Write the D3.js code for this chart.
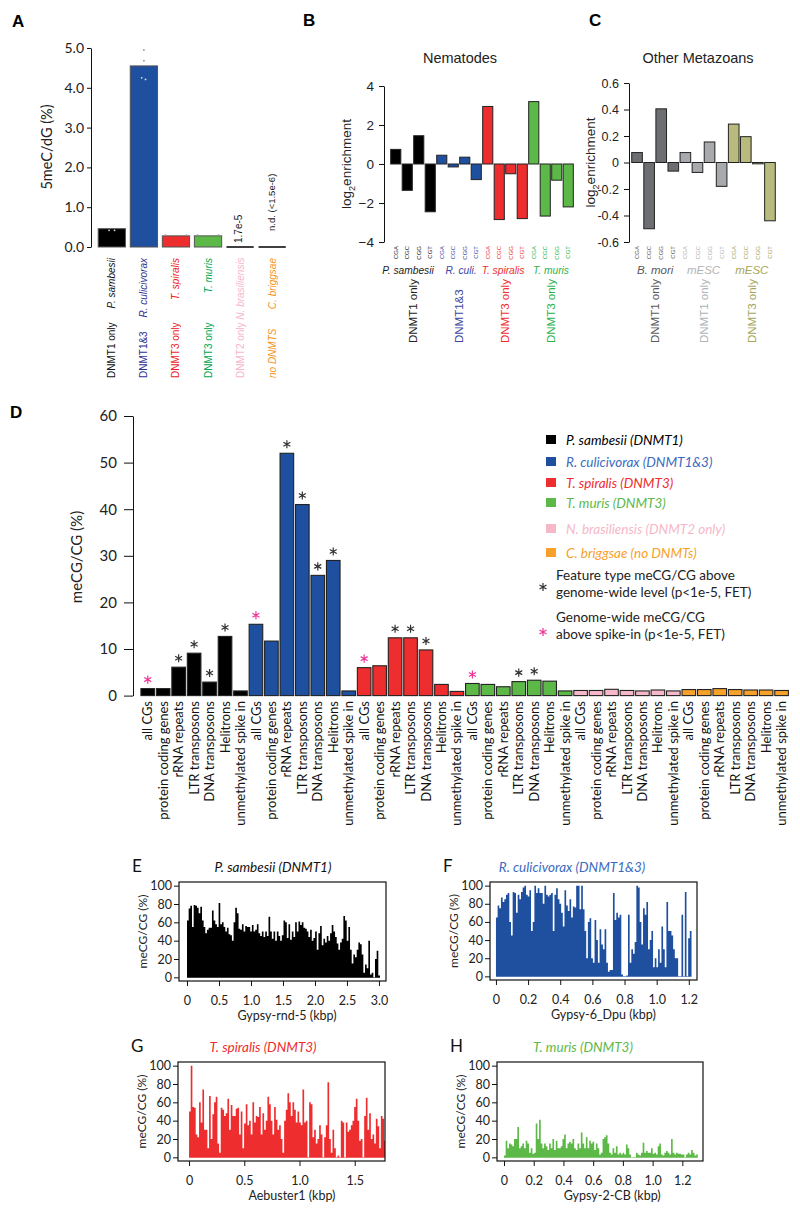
<!DOCTYPE html>
<html><head><meta charset="utf-8">
<script src="https://cdn.jsdelivr.net/npm/d3@7"></script>
<style>
body{margin:0;background:#fff;}
svg{display:block;}
</style></head><body>
<svg id="c" width="800" height="1215"></svg>
<script>
// ================= DATA =================
// Panel A
const A_species = ["P. sambesii","R. culicivorax","T. spiralis","T. muris","N. brasiliensis","C. briggsae"];
const A_dnmt = ["DNMT1 only","DNMT1&3","DNMT3 only","DNMT3 only","DNMT2 only","no DNMTS"];
const A_values = [0.46, 4.55, 0.28, 0.28, 0.000017, 0];
const A_ticks = [0,1,2,3,4,5];
const A_repSpecies = [1,1,1,1,0,0,2,2,3,3];
const A_repValues = [4.95,4.68,4.25,4.21,0.42,0.42,0.30,0.30,0.30,0.30];
const A_repJitter = [0.5,0.5,0.42,0.56,0.4,0.6,0.12,0.88,0.12,0.88];
const A_notes = ["1.7e-5","n.d. (<1.5e-6)"];

// Panel B
const codons = ["CGA","CGC","CGG","CGT"];
const B_species = ["P. sambesii","R. culi.","T. spiralis","T. muris"];
const B_dnmt = ["DNMT1 only","DNMT1&3","DNMT3 only","DNMT3 only"];
const B_values = [[0.75,-1.35,1.45,-2.45],[0.45,-0.15,0.35,-0.8],[2.95,-2.85,-0.5,-2.8],[3.2,-2.67,-0.83,-2.2]];
const B_ticks = [-4,-2,0,2,4];

// Panel C
const C_species = ["B. mori","mESC","mESC"];
const C_dnmt = ["DNMT1 only","DNMT1 only","DNMT3 only"];
const C_values = [[0.075,-0.5,0.405,-0.065],[0.075,-0.075,0.155,-0.18],[0.29,0.195,-0.01,-0.44]];
const C_ticks = [-0.6,-0.4,-0.2,0,0.2,0.4,0.6];

// Panel D
const D_features = ["all CGs","protein coding genes","rRNA repeats","LTR transposons","DNA transposons","Helitrons","unmethylated spike in"];
const D_species = ["P. sambesii (DNMT1)","R. culicivorax (DNMT1&3)","T. spiralis (DNMT3)","T. muris (DNMT3)","N. brasiliensis (DNMT2 only)","C. briggsae (no DNMTs)"];
const D_values = [
  [1.5,1.5,6.1,9.1,2.9,12.7,1.0],
  [15.3,11.7,52.0,41.0,25.8,29.0,1.0],
  [6.0,6.4,12.4,12.4,9.8,2.4,0.9],
  [2.6,2.4,1.9,3.0,3.3,3.1,1.0],
  [1.1,1.1,1.35,1.1,1.0,1.2,1.0],
  [1.3,1.3,1.5,1.3,1.2,1.2,1.1]];
const D_featureStar = [
  [0,0,1,1,1,1,0],
  [0,0,1,1,1,1,0],
  [0,0,1,1,1,0,0],
  [0,0,0,1,1,0,0],
  [0,0,0,0,0,0,0],
  [0,0,0,0,0,0,0]];
const D_genomeStar = [1,1,1,1,0,0];
const D_ticks = [0,10,20,30,40,50,60];
const D_starLegend = [["Feature type meCG/CG above","genome-wide level (p<1e-5, FET)"],["Genome-wide meCG/CG","above spike-in (p<1e-5, FET)"]];

// Panels E-H (meCG/CG % in consecutive bins along element)
const E_values = [62,75,78,55,79,78,76,70,77,62,55,48,52,54,54,73,62,58,55,81,58,60,55,50,54,47,46,40,60,76,70,53,52,58,50,56,55,55,50,57,50,52,58,48,45,50,44,50,45,66,50,42,50,40,50,45,40,46,62,60,43,58,41,50,44,60,50,61,57,60,54,53,50,44,52,40,43,50,30,48,56,35,42,38,45,40,48,57,50,44,37,30,38,42,67,62,40,55,30,15,25,22,30,38,36,25,5,14,10,40,3,5,0,20,29,2];
const F_values = [65,78,75,87,82,85,90,92,60,45,93,92,70,90,85,93,98,100,90,88,95,50,60,100,92,97,92,92,80,100,90,88,90,92,50,90,97,85,80,70,55,95,78,72,85,65,77,76,100,100,74,100,74,50,20,60,64,20,15,62,40,15,52,35,30,52,15,5,7,7,92,62,70,65,68,2,0,0,1,68,15,30,25,38,100,98,60,35,75,68,82,30,40,50,10,20,10,30,15,55,30,10,82,50,50,45,30,20,20,0,0,68,0,93,0,42,50];
const G_values = [50,100,55,54,25,22,60,38,74,30,30,10,67,20,47,60,66,15,5,54,52,45,48,64,30,57,45,45,53,54,25,50,10,37,58,35,40,25,60,38,45,44,55,25,48,30,40,66,58,40,25,55,41,30,35,20,5,40,52,70,60,45,60,52,38,50,38,35,74,38,40,0,60,58,22,30,15,20,35,25,0,22,35,82,20,5,30,10,0,2,0,40,38,0,38,28,30,35,40,55,64,40,18,20,0,45,65,30,48,20,25,15,42,34,10,45,42,18];
const H_values = [2,18,10,15,14,12,20,20,33,10,12,15,10,18,15,5,10,4,5,37,20,41,15,10,15,12,8,15,10,20,8,18,10,10,12,20,25,10,15,17,15,20,10,8,15,10,27,15,10,22,10,18,15,17,8,15,10,3,5,20,22,24,15,5,3,10,5,12,3,5,3,5,3,14,10,3,0,0,0,5,3,2,5,16,5,7,5,5,10,4,5,3,12,15,3,2,5,7,5,3,20,5,3,5,4,4,3,3,0,3,5,3,8,5,2,3];
const E_bin = 0.026, F_bin = 0.0104, G_bin = 0.0151, H_bin = 0.01124;
const E_xticks = [0,0.5,1,1.5,2,2.5,3];
const F_xticks = [0,0.2,0.4,0.6,0.8,1.0,1.2];
const G_xticks = [0,0.5,1,1.5];
const H_xticks = [0,0.2,0.4,0.6,0.8,1.0,1.2];
const trace_yticks = [0,20,40,60,80,100];

// ================= STYLE =================
const fill6 = ["#000000","#1f4f9f","#ee2d2f","#5cb947","#f6b8c8","#f7a12a"];
const A_textCol = ["#111111","#2e3192","#ed1c24","#00a651","#f7b6c8","#f7941d"];
const B_fill = ["#000000","#1f4f9f","#ee2d2f","#5cb947"];
const B_textCol = ["#222222","#3b46a0","#ee2d2f","#2bb34b"];
const C_fill = ["#6d6e71","#a7a9ac","#b8bb7d"];
const C_textCol = ["#58595b","#b1b3b6","#a4a65a"];
const D_legCol = ["#000000","#3b6bc1","#ee2d2f","#5cb947","#f6b8c8","#f7a12a"];
const PINK = "#f0359a";
const MYR = "Lato, 'Open Sans', sans-serif";
const HEL = "'Liberation Sans', Arial, sans-serif";

const svg = d3.select("#c");

function styleAxis(g, font, size, col){
  g.attr("font-family", font).attr("font-size", size);
  g.selectAll(".domain").attr("stroke","#111").attr("stroke-width",1);
  g.selectAll(".tick line").attr("stroke","#111");
  g.selectAll(".tick text").attr("fill", col || "#222");
}
function rotText(g, x, y, txt, anchor, opts){
  const t = g.append("text").attr("transform",`translate(${x},${y}) rotate(-90)`)
    .attr("text-anchor",anchor).attr("dy","0.35em")
    .attr("font-family",opts.font).attr("font-size",opts.size)
    .attr("fill",opts.fill).attr("font-style",opts.italic?"italic":"normal");
  if (txt !== null) t.text(txt);
  return t;
}

// ================= PANEL A =================
(function(){
  const g = svg.append("g");
  g.append("text").attr("x",12).attr("y",27).text("A").attr("font-family",HEL).attr("font-weight","bold").attr("font-size",17);
  const y = d3.scaleLinear().domain([0,5]).range([247,48]);
  const x = d3.scaleBand().domain(d3.range(A_species.length)).range([95,289]).paddingInner(0.15).paddingOuter(0.1);
  const ax = g.append("g").attr("transform","translate(91,0)")
    .call(d3.axisLeft(y).tickValues(A_ticks).tickFormat(d3.format(".1f")).tickSize(4).tickPadding(3).tickSizeOuter(0));
  styleAxis(ax, MYR, 14);
  g.append("text").attr("transform",`translate(52,147) rotate(-90)`).attr("text-anchor","middle")
    .attr("font-family",MYR).attr("font-size",14.5).attr("fill","#222").text("5meC/dG (%)");
  A_values.forEach((v,i)=>{
    const h = y(0)-y(v);
    if (h > 1.5){
      g.append("rect").attr("x",x(i)).attr("y",y(v)).attr("width",x.bandwidth()).attr("height",h)
        .attr("fill",fill6[i]).attr("stroke","#555").attr("stroke-width",1);
    } else {
      g.append("line").attr("x1",x(i)).attr("x2",x(i)+x.bandwidth()).attr("y1",y(0)).attr("y2",y(0))
        .attr("stroke","#111").attr("stroke-width",1.6);
    }
  });
  A_repValues.forEach((v,k)=>{
    const s = A_repSpecies[k];
    const inside = v <= A_values[s];
    g.append("circle").attr("cx",x(s)+x.bandwidth()*A_repJitter[k]).attr("cy",y(v)).attr("r",0.9)
      .attr("fill", inside ? "#dddddd" : "#999999");
  });
  rotText(g, x(4)+x.bandwidth()*0.45, 243, A_notes[0], "start", {font:HEL,size:10,fill:"#222"});
  rotText(g, x(5)+x.bandwidth()*0.5, 231, A_notes[1], "start", {font:HEL,size:9.5,fill:"#222"});
  A_species.forEach((s,i)=>{
    const cx = x(i)+x.bandwidth()/2;
    if (i === 4){
      const t = rotText(g, cx, 378, null, "start", {font:HEL,size:10,fill:A_textCol[i]});
      t.append("tspan").text(A_dnmt[i]+" ");
      t.append("tspan").attr("font-style","italic").text(s);
    } else {
      rotText(g, cx, 258, s, "end", {font:HEL,size:10,fill:A_textCol[i],italic:true});
      rotText(g, cx, 378, A_dnmt[i], "start", {font:HEL,size:10,fill:A_textCol[i],italic:i===5});
    }
  });
})();

// ================= PANELS B & C =================
function codonPanel(cfg){
  const g = svg.append("g");
  g.append("text").attr("x",cfg.letterX).attr("y",26).text(cfg.letter).attr("font-family",HEL).attr("font-weight","bold").attr("font-size",17);
  g.append("text").attr("x",cfg.titleX).attr("y",63).attr("text-anchor","middle").attr("font-family",HEL)
    .attr("font-size",14.5).attr("fill","#222").text(cfg.title);
  const y = d3.scaleLinear().domain(cfg.ydom).range(cfg.yrange);
  const flat = [];
  cfg.values.forEach((arr,si)=>arr.forEach((v,ci)=>flat.push({si,ci,v})));
  const x = d3.scaleBand().domain(d3.range(flat.length)).range(cfg.xrange).paddingInner(0.12).paddingOuter(0.06);
  const ax = g.append("g").attr("transform",`translate(${cfg.axisX},0)`)
    .call(d3.axisLeft(y).tickValues(cfg.ticks).tickFormat(cfg.fmt).tickSize(5).tickPadding(5).tickSizeOuter(0));
  styleAxis(ax, HEL, cfg.tickSize);
  const yl = g.append("text").attr("transform",`translate(${cfg.ylabX},${(cfg.yrange[0]+cfg.yrange[1])/2}) rotate(-90)`)
    .attr("text-anchor","middle").attr("font-family",HEL).attr("font-size",13.5).attr("fill","#222");
  yl.append("tspan").text("log");
  yl.append("tspan").attr("dy",4).attr("font-size",9).text("2");
  yl.append("tspan").attr("dy",-4).text("enrichment");
  flat.forEach((d,i)=>{
    g.append("rect").attr("x",x(i)).attr("width",x.bandwidth())
      .attr("y",y(Math.max(d.v,0))).attr("height",Math.max(Math.abs(y(d.v)-y(0)),1))
      .attr("fill",cfg.fill[d.si]).attr("stroke","#222").attr("stroke-width",1);
    rotText(g, x(i)+x.bandwidth()/2, 246, codons[d.ci], "end", {font:HEL,size:6,fill:cfg.textCol[d.si]});
  });
  cfg.species.forEach((s,si)=>{
    const cx = (x(si*4) + x(si*4+3) + x.bandwidth())/2;
    g.append("text").attr("x",cx + (cfg.spShift ? cfg.spShift[si] : 0)).attr("y",274).attr("text-anchor","middle").attr("font-family",HEL)
      .attr("font-size",cfg.spSize).attr("font-style","italic").attr("fill",cfg.textCol[si]).text(s);
    rotText(g, cx, 343, cfg.dnmt[si], "start", {font:HEL,size:11.5,fill:cfg.textCol[si]});
  });
}
codonPanel({letter:"B",letterX:303,title:"Nematodes",titleX:460,ydom:[-4,4],yrange:[242,86],xrange:[390,574],
  axisX:384,ticks:B_ticks,fmt:d3.format("d"),tickSize:13.5,ylabX:351,values:B_values,fill:B_fill,textCol:B_textCol,
  species:B_species,dnmt:B_dnmt,spSize:10.2,spShift:[-5,2,-2,0]});
codonPanel({letter:"C",letterX:589,title:"Other Metazoans",titleX:698,ydom:[-0.6,0.6],yrange:[242,83],xrange:[631,776],
  axisX:629,ticks:C_ticks,fmt:d=>Math.abs(d)<1e-9?"0":d3.format(".1f")(d).replace("\u2212","-"),tickSize:12.5,ylabX:595,
  values:C_values,fill:C_fill,textCol:C_textCol,species:C_species,dnmt:C_dnmt,spSize:11.5});

// ================= PANEL D =================
(function(){
  const g = svg.append("g");
  g.append("text").attr("x",10).attr("y",418).text("D").attr("font-family",HEL).attr("font-weight","bold").attr("font-size",17);
  const y = d3.scaleLinear().domain([0,60]).range([695.6,416]);
  const flat = [];
  D_values.forEach((arr,si)=>arr.forEach((v,fi)=>flat.push({si,fi,v})));
  const x = d3.scaleBand().domain(d3.range(flat.length)).range([140,789.3]).paddingInner(0.12).paddingOuter(0.06);
  const ax = g.append("g").attr("transform","translate(133,0)")
    .call(d3.axisLeft(y).tickValues(D_ticks).tickSize(9).tickPadding(7).tickSizeOuter(0));
  styleAxis(ax, MYR, 15);
  g.append("text").attr("transform",`translate(82,557) rotate(-90)`).attr("text-anchor","middle")
    .attr("font-family",MYR).attr("font-size",15).attr("fill","#222").text("meCG/CG (%)");
  const star = d3.symbol().type(d3.symbolAsterisk).size(45);
  flat.forEach((d,i)=>{
    const cx = x(i)+x.bandwidth()/2;
    g.append("rect").attr("x",x(i)).attr("y",y(d.v)).attr("width",x.bandwidth()).attr("height",y(0)-y(d.v))
      .attr("fill",fill6[d.si]).attr("stroke","#222").attr("stroke-width",1.1);
    rotText(g, cx, 701, D_features[d.fi], "end", {font:MYR,size:13,fill:"#111"});
    const featStar = D_featureStar[d.si][d.fi] === 1;
    const genStar = d.fi === 0 && D_genomeStar[d.si] === 1;
    if (featStar || genStar){
      g.append("path").attr("d",star()).attr("transform",`translate(${cx},${y(d.v)-9})`)
        .attr("fill","none").attr("stroke",genStar?PINK:"#333").attr("stroke-width",1.2);
    }
  });
  const legY = [440,462,483,503,529,553];
  D_species.forEach((s,i)=>{
    g.append("rect").attr("x",546).attr("y",legY[i]-5).attr("width",10).attr("height",9).attr("fill",fill6[i]);
    g.append("text").attr("x",566).attr("y",legY[i]+5).attr("font-family",MYR).attr("font-size",13.5)
      .attr("font-style","italic").attr("fill",D_legCol[i]).text(s);
  });
  const starY = [587,632], textY = [[580,597],[622,639]];
  D_starLegend.forEach((lines,k)=>{
    g.append("path").attr("d",star()).attr("transform",`translate(543,${starY[k]})`)
      .attr("fill","none").attr("stroke",k===0?"#333":PINK).attr("stroke-width",1.2);
    lines.forEach((ln,j)=>{
      g.append("text").attr("x",556).attr("y",textY[k][j]).attr("font-family",MYR).attr("font-size",13.5)
        .attr("fill","#222").text(ln);
    });
  });
})();

// ================= PANELS E-H =================
function tracePanel(cfg){
  const g = svg.append("g");
  const b = cfg.box;
  const x = d3.scaleLinear().domain(cfg.xdom).range([b.l,b.r]);
  const y = d3.scaleLinear().domain([-4,104]).range([b.b,b.t]);
  const id = "clip"+cfg.letter;
  g.append("clipPath").attr("id",id).append("rect").attr("x",b.l).attr("y",b.t).attr("width",b.r-b.l).attr("height",b.b-b.t);
  const pts = cfg.values.map((v,i)=>({k:i*cfg.bin, v}));
  pts.push({k:cfg.values.length*cfg.bin, v:cfg.values[cfg.values.length-1]});
  const area = d3.area().curve(d3.curveStepAfter).x(d=>x(d.k)).y0(y(0)+0.5).y1(d=>y(d.v));
  g.append("path").attr("clip-path",`url(#${id})`).attr("d",area(pts)).attr("fill",cfg.color);
  g.append("rect").attr("x",b.l).attr("y",b.t).attr("width",b.r-b.l).attr("height",b.b-b.t)
    .attr("fill","none").attr("stroke","#111").attr("stroke-width",1.2);
  const fmt = d=> d===0 ? "0" : d3.format(".1f")(d);
  const ax = g.append("g").attr("transform",`translate(0,${b.b})`)
    .call(d3.axisBottom(x).tickValues(cfg.xticks).tickFormat(fmt).tickSize(5).tickPadding(10).tickSizeOuter(0));
  styleAxis(ax, MYR, 12.5);
  ax.select(".domain").remove();
  const ay = g.append("g").attr("transform",`translate(${b.l},0)`)
    .call(d3.axisLeft(y).tickValues(trace_yticks).tickSize(5).tickPadding(2).tickSizeOuter(0));
  styleAxis(ay, MYR, 12.5);
  ay.select(".domain").remove();
  g.append("text").attr("transform",`translate(${b.l-32},${(b.t+b.b)/2}) rotate(-90)`).attr("text-anchor","middle")
    .attr("font-family",MYR).attr("font-size",12).attr("fill","#222").text("meCG/CG (%)");
  g.append("text").attr("x",(x(cfg.xticks[0])+x(cfg.xticks[cfg.xticks.length-1]))/2+cfg.xlabShift).attr("y",b.b+39)
    .attr("text-anchor","middle").attr("font-family",MYR).attr("font-size",12.5).attr("fill","#222").text(cfg.xlabel);
  g.append("text").attr("x",cfg.titleX).attr("y",b.t-10).attr("text-anchor","middle").attr("font-family",MYR)
    .attr("font-size",13.5).attr("font-style","italic").attr("fill",cfg.titleCol).text(cfg.title);
  g.append("text").attr("x",b.l-47).attr("y",b.t-10).attr("font-family",MYR).attr("font-size",17)
    .attr("fill","#111").text(cfg.letter);
}
tracePanel({letter:"E",title:"P. sambesii (DNMT1)",titleCol:"#111",titleX:273,box:{l:179,t:882,r:386,b:981},
  xdom:[-0.125,3.11],xticks:E_xticks,xlabel:"Gypsy-rnd-5 (kbp)",xlabShift:4,values:E_values,bin:E_bin,color:"#000"});
tracePanel({letter:"F",title:"R. culicivorax (DNMT1&3)",titleCol:"#3b6bc1",titleX:572,box:{l:490,t:882,r:697,b:980},
  xdom:[-0.037,1.251],xticks:F_xticks,xlabel:"Gypsy-6_Dpu (kbp)",xlabShift:11,values:F_values,bin:F_bin,color:"#1f4f9f"});
tracePanel({letter:"G",title:"T. spiralis (DNMT3)",titleCol:"#ee2d2f",titleX:263,box:{l:178,t:1062,r:385,b:1161},
  xdom:[-0.1,1.774],xticks:G_xticks,xlabel:"Aebuster1 (kbp)",xlabShift:20,values:G_values,bin:G_bin,color:"#ee2d2f"});
tracePanel({letter:"H",title:"T. muris (DNMT3)",titleCol:"#5cb947",titleX:583,box:{l:497,t:1062,r:703,b:1161},
  xdom:[-0.047,1.339],xticks:H_xticks,xlabel:"Gypsy-2-CB (kbp)",xlabShift:19,values:H_values,bin:H_bin,color:"#5cb947"});
</script>
</body></html>
